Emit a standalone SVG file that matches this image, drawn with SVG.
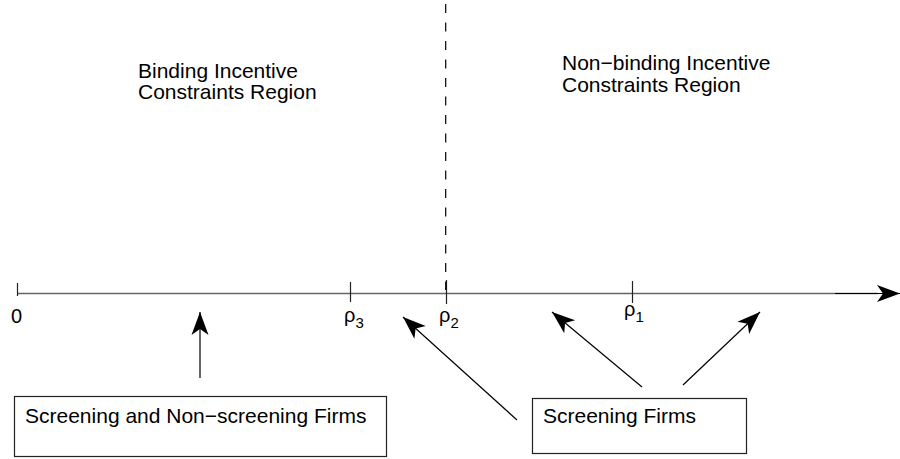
<svg xmlns="http://www.w3.org/2000/svg" width="900" height="459" viewBox="0 0 900 459">
<style>
text{font-family:"Liberation Sans",Arial,sans-serif;fill:#000}
.lbl{font-size:21px}
.rho{font-size:20px}
.sub{font-size:15px}
.box{fill:#fff;stroke:#222;stroke-width:1.2}
.tick{stroke:#222;stroke-width:1.2}
.arr{stroke:#000;stroke-width:1.2;fill:none;marker-end:url(#ah)}
</style>
<defs>
<marker id="ah" markerUnits="userSpaceOnUse" viewBox="-24 -10 26 20" markerWidth="26" markerHeight="20" refX="0" refY="0" orient="auto">
<path d="M0,0 L-23,-8.5 L-17,0 L-23,8.5 Z" fill="#000"/>
</marker>
</defs>
<g id="axis">
<line x1="17" y1="293.5" x2="878" y2="293.5" stroke="#666" stroke-width="1.4"/>
<line x1="835" y1="293.5" x2="900" y2="293.5" class="arr"/>
<line class="tick" x1="17.5" y1="283" x2="17.5" y2="296"/>
<line class="tick" x1="350.5" y1="282" x2="350.5" y2="302"/>
<line class="tick" x1="446.5" y1="280" x2="446.5" y2="304"/>
<line class="tick" x1="632.5" y1="281" x2="632.5" y2="303"/>
<text class="rho" x="11" y="323">0</text>
<text class="rho" x="344" y="322">ρ<tspan class="sub" dy="6">3</tspan></text>
<text class="rho" x="439" y="322">ρ<tspan class="sub" dy="6">2</tspan></text>
<text class="rho" x="624" y="316">ρ<tspan class="sub" dy="6">1</tspan></text>
</g>
<g id="divider">
<line x1="445.7" y1="4" x2="445.7" y2="290" stroke="#000" stroke-width="1.2" stroke-dasharray="9 9.5"/>
</g>
<g id="binding-region">
<text class="lbl" x="138" y="78">Binding Incentive</text>
<text class="lbl" x="138" y="99">Constraints Region</text>
</g>
<g id="nonbinding-region">
<text class="lbl" x="562" y="70">Non−binding Incentive</text>
<text class="lbl" x="562" y="92">Constraints Region</text>
</g>
<g id="box-both">
<rect class="box" x="14.5" y="396.5" width="372" height="60"/>
<text class="lbl" x="25" y="423">Screening and Non−screening Firms</text>
</g>
<g id="box-screening">
<rect class="box" x="532.5" y="398.5" width="214" height="55"/>
<text class="lbl" x="543" y="423">Screening Firms</text>
</g>
<g id="connectors">
<line class="arr" x1="200" y1="378" x2="200" y2="312"/>
<line class="arr" x1="517" y1="420" x2="403" y2="317"/>
<line class="arr" x1="642" y1="387" x2="552" y2="312"/>
<line class="arr" x1="683" y1="385" x2="760" y2="312"/>
</g>
</svg>
